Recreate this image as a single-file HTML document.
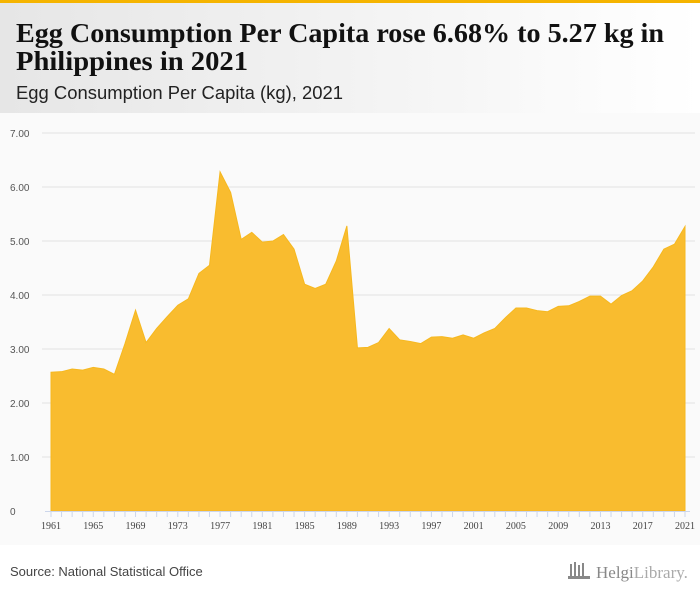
<!DOCTYPE html>
<html><head><meta charset="utf-8"><style>
html,body{margin:0;padding:0;background:#fff}
svg{display:block}
text{font-family:"Liberation Sans",sans-serif}
</style></head><body>
<svg id="c" width="700" height="596" viewBox="0 0 700 596">
<defs><linearGradient id="hg" x1="0" x2="1"><stop offset="0" stop-color="#e6e6e6"/><stop offset="1" stop-color="#ffffff"/></linearGradient></defs>
<rect x="0" y="0" width="700" height="596" fill="#ffffff"/>
<rect x="0" y="3" width="700" height="110" fill="url(#hg)"/>
<rect x="0" y="0" width="700" height="3" fill="#f5b400"/>
<rect x="0" y="113" width="700" height="432" fill="#fafafa"/>
<text x="16" y="42" font-family="Liberation Serif,serif" font-weight="bold" font-size="27" fill="#111" textLength="648" lengthAdjust="spacingAndGlyphs" style="font-family:'Liberation Serif',serif">Egg Consumption Per Capita rose 6.68% to 5.27 kg in</text>
<text x="16" y="70" font-weight="bold" font-size="27" fill="#111" textLength="232" lengthAdjust="spacingAndGlyphs" style="font-family:'Liberation Serif',serif">Philippines in 2021</text>
<text x="16" y="99" font-size="18" fill="#222" textLength="327" lengthAdjust="spacingAndGlyphs">Egg Consumption Per Capita (kg), 2021</text>
<g id="grid"></g>
<g id="area"></g>
<g id="axes"></g>
<text x="10" y="576" font-size="13" fill="#444">Source: National Statistical Office</text>
<g>
<rect x="570" y="564" width="2" height="14" fill="#888"/><rect x="574" y="562" width="2" height="16" fill="#888"/><rect x="578" y="565" width="2" height="13" fill="#888"/><rect x="582" y="563" width="2" height="15" fill="#888"/><rect x="568" y="576" width="22" height="3" fill="#888"/>
<text x="596" y="578" font-size="17" fill="#888" style="font-family:'Liberation Serif',serif">Helgi<tspan font-weight="normal" fill="#aaa">Library.</tspan></text>
</g>
</svg>
<script>
const years = [];
for (let y = 1961; y <= 2021; y++) years.push(y);
const values = [2.57,2.58,2.63,2.61,2.66,2.63,2.53,3.1,3.72,3.12,3.38,3.6,3.81,3.93,4.4,4.55,6.28,5.9,5.03,5.16,4.98,5.0,5.12,4.85,4.2,4.12,4.2,4.63,5.28,3.02,3.03,3.12,3.38,3.17,3.14,3.1,3.22,3.23,3.2,3.26,3.2,3.3,3.38,3.58,3.76,3.76,3.71,3.69,3.79,3.8,3.88,3.98,3.98,3.83,3.99,4.08,4.26,4.52,4.85,4.94,5.27];
const yTicks = [0,1,2,3,4,5,6,7];
const yTickLabels = ["0","1.00","2.00","3.00","4.00","5.00","6.00","7.00"];
const xLabelYears = [1961,1965,1969,1973,1977,1981,1985,1989,1993,1997,2001,2005,2009,2013,2017,2021];

const NS = "http://www.w3.org/2000/svg";
const X0 = 51, X1 = 685, Y0 = 511, Y1 = 133;
const xs = y => X0 + (y - 1961) / (2021 - 1961) * (X1 - X0);
const ys = v => Y0 - v / 7 * (Y0 - Y1);
function mk(tag, attrs, parent) { const e = document.createElementNS(NS, tag); for (const k in attrs) e.setAttribute(k, attrs[k]); parent.appendChild(e); return e; }

const grid = document.getElementById('grid');
yTicks.forEach((t, i) => {
  if (t > 0) {
    const l = mk('line', {x1: 42, x2: 695, y1: ys(t), y2: ys(t), stroke: '#e3e3e3', 'stroke-width': 1}, grid);
    
    
  }
  const tx = mk('text', {x: 10, y: ys(t) + 4, 'font-size': 10, fill: '#555'}, grid);
  tx.textContent = yTickLabels[i];
  
  
});

const area = document.getElementById('area');
let d = `M${xs(years[0])},${ys(0)}`;
years.forEach((y, i) => { d += ` L${xs(y)},${ys(values[i])}`; });
d += ` L${xs(years[years.length-1])},${ys(0)} Z`;
const p = mk('path', {d: d, fill: '#f9bc2f', stroke: '#f6b81f', 'stroke-width': 1}, area);



const axes = document.getElementById('axes');
const ax = mk('line', {x1: 45, x2: 690, y1: Y0 + 0.5, y2: Y0 + 0.5, stroke: '#ccd6eb', 'stroke-width': 1}, axes);


years.forEach(y => {
  const t = mk('line', {x1: xs(y), x2: xs(y), y1: Y0, y2: Y0 + 6, stroke: '#ccd6eb', 'stroke-width': 1}, axes);
  
  
});
xLabelYears.forEach(y => {
  const t = mk('text', {x: xs(y), y: 529, 'font-size': 10, fill: '#444', 'text-anchor': 'middle', style: "font-family:'Liberation Serif',serif"}, axes);
  t.textContent = y;
  
  
});
</script>
</body></html>
